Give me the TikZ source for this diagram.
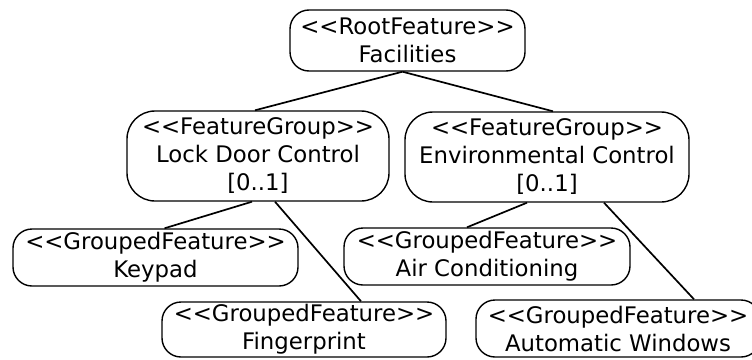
\documentclass[tikz,border=0pt]{standalone}
\usepackage{fontspec}
\setmainfont{DejaVu Sans}
% stereotype label: keep the double angle brackets as separate characters
\newcommand\stereotype[1]{<\kern0pt<#1>\kern0pt>}
\begin{document}
\begin{tikzpicture}[x=1pt,y=-1pt,
  feat/.style={draw, line width=1.4pt, rounded corners=19pt, align=center,
    inner sep=0pt, font=\fontsize{22.8}{28}\selectfont},
  featgroup/.style={feat, rounded corners=28pt},
  link/.style={line width=1.7pt}]
\useasboundingbox (0,0) rectangle (752,359);

\node[feat, minimum width=235pt, minimum height=61pt] (root) at (407.5,40.5)
  {\stereotype{RootFeature}\\Facilities};

\node[featgroup, minimum width=262pt, minimum height=90pt] (lock) at (258,156)
  {\stereotype{FeatureGroup}\\Lock Door Control\\{[0..1]}};
\node[featgroup, minimum width=284pt, minimum height=90pt] (env) at (547,157)
  {\stereotype{FeatureGroup}\\Environmental Control\\{[0..1]}};

\node[feat, minimum width=285pt, minimum height=57pt] (keypad) at (155.5,257.5)
  {\stereotype{GroupedFeature}\\Keypad};
\node[feat, minimum width=284pt, minimum height=55pt] (finger) at (304,329.5)
  {\stereotype{GroupedFeature}\\Fingerprint};
\node[feat, minimum width=286pt, minimum height=57pt] (air) at (487,256.5)
  {\stereotype{GroupedFeature}\\Air Conditioning};
\node[feat, minimum width=284pt, minimum height=57pt] (windows) at (618,328.5)
  {\stereotype{GroupedFeature}\\Automatic Windows};

\draw[link] ([xshift=-5pt]root.south) -- ([xshift=-3pt]lock.north);
\draw[link] ([xshift=-5pt]root.south) -- ([xshift=6pt]env.north);
\draw[link] ([xshift=-6pt]lock.south) -- ([xshift=9pt]keypad.north);
\draw[link] ([xshift=17pt]lock.south) -- ([xshift=57pt]finger.north);
\draw[link] ([xshift=-20pt]env.south) -- ([xshift=-20pt]air.north);
\draw[link] ([xshift=57pt]env.south) -- ([xshift=76pt]windows.north);
\end{tikzpicture}
\end{document}
